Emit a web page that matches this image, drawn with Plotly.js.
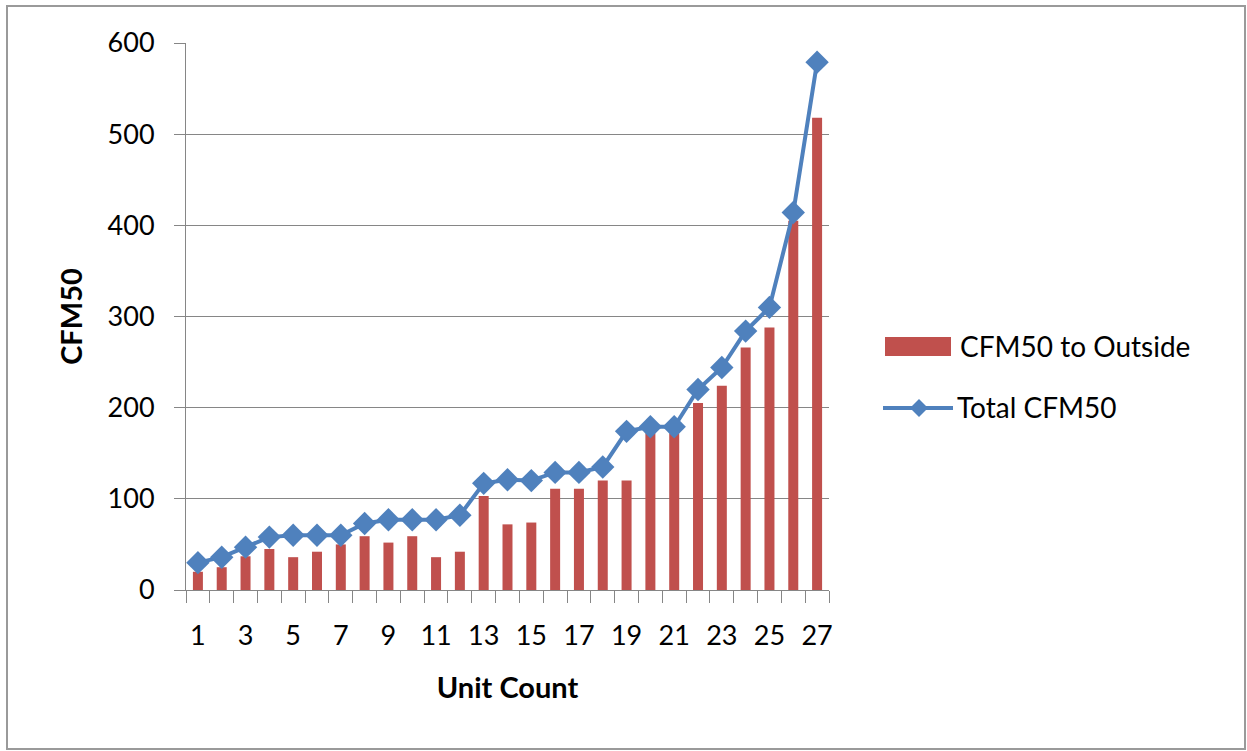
<!DOCTYPE html>
<html>
<head>
<meta charset="utf-8">
<script src="https://cdn.plot.ly/plotly-3.0.1.min.js"></script>
<style>
  html, body { margin: 0; padding: 0; background: #fff; }
  #chart { width: 1247px; height: 751px; }
</style>
</head>
<body>
<div id="chart"></div>
<script>
// ---- data ----
const unitCount = ['1','2','3','4','5','6','7','8','9','10','11','12','13','14','15','16','17','18','19','20','21','22','23','24','25','26','27'];
const cfm50ToOutside = [20, 25, 37, 45, 36, 42, 50, 59, 52, 59, 36, 42, 103, 72, 74, 111, 111, 120, 120, 172, 172, 205, 224, 266, 288, 405, 518];
const totalCfm50 = [30, 36, 47, 58, 60, 60, 60, 73, 77, 77, 77, 82, 117, 121, 120, 129, 129, 135, 174, 179, 179, 220, 244, 284, 310, 414, 579];
const seriesNames = ['CFM50 to Outside', 'Total CFM50'];

// ---- layout geometry (pixels) ----
const W = 1247, H = 751;
const L = 186, R = 829, T = 43, B = 590;
const px = x => (x - L) / (R - L);
const py = y => (B - y) / (B - T);

const FONT = 'Lato, "Open Sans", sans-serif';
const red = '#C0504D', blue = '#4F81BD', grid = '#868686';

const traces = [
  {
    type: 'bar', name: seriesNames[0], x: unitCount, y: cfm50ToOutside,
    marker: { color: red }, hoverinfo: 'x+y+name'
  },
  {
    type: 'scatter', mode: 'lines+markers', name: seriesNames[1], x: unitCount, y: totalCfm50,
    line: { color: blue, width: 4 },
    marker: { symbol: 'diamond', size: 18, color: blue },
    cliponaxis: false
  }
];

// custom legend (swatches sized like the reference)
const dH = 9;
const diamond = `M ${px(919)},${py(408 - dH)} L ${px(919 + dH)},${py(408)} L ${px(919)},${py(408 + dH)} L ${px(919 - dH)},${py(408)} Z`;

const layout = {
  width: W, height: H,
  margin: { l: L, r: W - R, t: T, b: H - B, pad: 0 },
  paper_bgcolor: '#fff', plot_bgcolor: '#fff',
  font: { family: FONT, size: 27, color: '#000' },
  showlegend: false,
  bargap: 0.58,
  xaxis: {
    type: 'category',
    range: [-0.5, unitCount.length - 0.5],
    tickmode: 'linear', tick0: 0, dtick: 1,
    tickson: 'boundaries',
    ticks: 'outside', ticklen: 12, tickcolor: grid, tickwidth: 1,
    ticklabelstep: 2,
    tickangle: 0,
    ticklabelstandoff: 22,
    showline: true, linecolor: grid, linewidth: 1,
    showgrid: false, zeroline: false,
    tickfont: { family: FONT, size: 27, color: '#000' },
    title: { text: 'Unit Count', font: { family: FONT, size: 29, color: '#000', weight: 'bold' }, standoff: 27 },
    fixedrange: true
  },
  yaxis: {
    range: [0, 600], dtick: 100, tick0: 0,
    ticks: 'outside', ticklen: 11, tickcolor: grid, tickwidth: 1,
    ticklabelstandoff: 14,
    showline: true, linecolor: grid, linewidth: 1,
    showgrid: true, gridcolor: grid, gridwidth: 1,
    zeroline: false,
    tickfont: { family: FONT, size: 27, color: '#000' },
    title: { text: 'CFM50', font: { family: FONT, size: 29, color: '#000', weight: 'bold' }, standoff: 16 },
    fixedrange: true
  },
  shapes: [
    // outer chart border
    { type: 'rect', xref: 'paper', yref: 'paper', x0: px(7), x1: px(1245), y0: py(6), y1: py(749),
      line: { color: '#9a9a9a', width: 2 }, fillcolor: 'rgba(0,0,0,0)', layer: 'below' },
    // legend swatches
    { type: 'rect', xref: 'paper', yref: 'paper', x0: px(885), x1: px(951), y0: py(337), y1: py(356),
      line: { width: 0 }, fillcolor: red },
    { type: 'line', xref: 'paper', yref: 'paper', x0: px(883), x1: px(953), y0: py(408), y1: py(408),
      line: { color: blue, width: 4 } },
    { type: 'path', xref: 'paper', yref: 'paper', path: diamond, line: { width: 0 }, fillcolor: blue }
  ],
  annotations: [
    { xref: 'paper', yref: 'paper', x: px(958), y: py(346), xanchor: 'left', yanchor: 'middle',
      text: seriesNames[0], showarrow: false, font: { family: FONT, size: 28, color: '#000' } },
    { xref: 'paper', yref: 'paper', x: px(955), y: py(407), xanchor: 'left', yanchor: 'middle',
      text: seriesNames[1], showarrow: false, font: { family: FONT, size: 28, color: '#000' } }
  ]
};

Plotly.newPlot('chart', traces, layout, { displayModeBar: false, responsive: false });
</script>
</body>
</html>
